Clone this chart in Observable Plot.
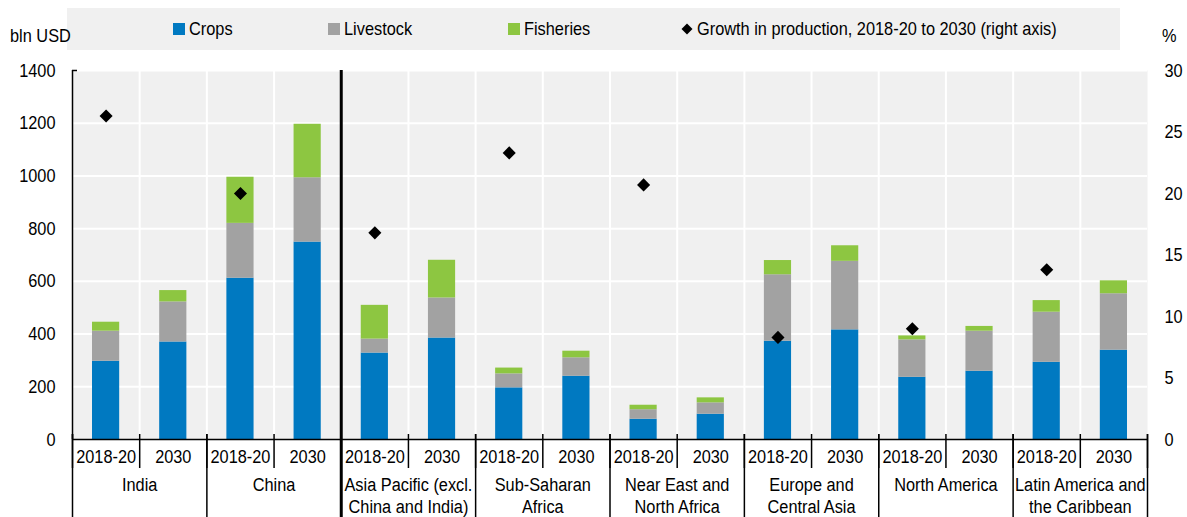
<!DOCTYPE html>
<html><head><meta charset="utf-8">
<script src="https://cdn.jsdelivr.net/npm/d3@7"></script>
<script src="https://cdn.jsdelivr.net/npm/@observablehq/plot@0.6"></script>
<style>
body{margin:0;background:#fff;}
#wrap{position:relative;width:1187px;height:517px;overflow:hidden;font-family:"Liberation Sans",Arial,sans-serif;font-size:19px;color:#000;}
#legend{position:absolute;left:67px;top:8px;width:1053px;height:42px;background:#f0f0f0;z-index:2;}
.item{position:absolute;top:0;height:42px;display:flex;align-items:center;white-space:nowrap;}
.sw{width:12px;height:12px;margin-right:4px;flex:none;}
.nar{display:inline-block;transform:scaleX(0.86);transform-origin:left center;white-space:nowrap;}
.lab{position:absolute;top:25px;z-index:2;}
#wrap svg.plot{position:absolute;left:0;top:0;}
</style>
</head><body>
<div id="wrap">
  <div id="legend"></div>
  <div class="lab" style="left:10px;"><span class="nar">bln USD</span></div>
  <div class="lab" style="left:1162px;"><span class="nar">%</span></div>
</div>
<script>
const regions = ["India","China","Asia Pacific (excl.\nChina and India)","Sub-Saharan\nAfrica","Near East and\nNorth Africa","Europe and\nCentral Asia","North America","Latin America and\nthe Caribbean"];
const years = ["2018-20","2030"];
const seriesNames = ["Crops","Livestock","Fisheries"];
const seriesColors = ["#0079c1","#a2a2a2","#8dc641"];
const growthLabel = "Growth in production, 2018-20 to 2030 (right axis)";
// values in bln USD, order: region x year
const crops     = [297,370, 612,749, 328,385, 196,240, 77,96, 373,416, 236,259, 293,339];
const livestock = [114,152, 208,244,  53,152,  53, 70, 36,43, 252,260, 142,152, 190,214];
const fisheries = [ 34, 43, 175,203, 128,143,  22, 25, 17,19,  54, 59,  15, 18,  44, 49];
// growth % (right axis), one per region
const growth = [26.3, 20.0, 16.8, 23.3, 20.7, 8.3, 9.0, 13.8];
const yTicks = [0,200,400,600,800,1000,1200,1400];
const y2Ticks = [0,5,10,15,20,25,30];

const n = regions.length * years.length;
const k = 1400 / 30;
const seriesArrays = [crops, livestock, fisheries];
const rows = [];
for (let i = 0; i < n; i++) {
  let base = 0;
  seriesNames.forEach((s, si) => {
    const v = seriesArrays[si][i];
    rows.push({i, s, y1: base, y2: base + v});
    base += v;
  });
}
const pts = growth.map((g, j) => ({i: 2 * j, g}));

// legend
const legend = document.getElementById("legend");
const lpos = [106, 261, 441];
seriesNames.forEach((s, si) => {
  const it = document.createElement("div");
  it.className = "item"; it.style.left = lpos[si] + "px";
  it.innerHTML = `<div class="sw" style="background:${seriesColors[si]}"></div><span class="nar">${s}</span>`;
  legend.appendChild(it);
});
const gi = document.createElement("div");
gi.className = "item"; gi.style.left = "614px";
gi.innerHTML = `<svg width="12" height="12" style="margin-right:4px;flex:none"><path d="M6,0.5L11.5,6L6,11.5L0.5,6Z" fill="#000"/></svg><span class="nar">${growthLabel}</span>`;
legend.appendChild(gi);

const font = '"Liberation Sans",Arial,sans-serif';
const chart = Plot.plot({
  width: 1187, height: 517,
  marginLeft: 72, marginRight: 40, marginTop: 70, marginBottom: 78,
  style: {fontFamily: font, fontSize: "19px", background: "transparent", overflow: "visible", color: "#000"},
  x: {domain: [0, n], axis: null},
  y: {domain: [0, 1400], axis: null},
  color: {domain: seriesNames, range: seriesColors},
  marks: [
    Plot.frame({fill: "#f0f0f0", stroke: null}),
    Plot.ruleY(yTicks.slice(1), {stroke: "#fff", strokeWidth: 2}),
    Plot.ruleX(d3.range(1, n), {stroke: "#fff", strokeWidth: 2}),
    Plot.rectY(rows, {x1: "i", x2: d => d.i + 1, y1: "y1", y2: "y2", fill: "s", insetLeft: 20, insetRight: 20}),
    Plot.ruleX([4], {stroke: "#000", strokeWidth: 3}),
    Plot.ruleX([0], {stroke: "#000", strokeWidth: 1.5}),
    Plot.ruleY([0], {stroke: "#000", strokeWidth: 1.5}),
    Plot.dot(pts, {x: d => d.i + 0.5, y: d => d.g * k, symbol: "diamond2", r: 5.9, fill: "#000", stroke: null}),
    Plot.axisY({anchor: "left", ticks: yTicks, tickSize: 0, tickPadding: 17, tickFormat: d => String(d), label: null}),
    Plot.axisY({anchor: "left", ticks: [1400], tickSize: -5, tickFormat: () => "", strokeWidth: 1.5, label: null}),
    Plot.axisY({anchor: "right", ticks: y2Ticks.map(v => v * k), tickFormat: v => String(Math.round(v / k)), tickSize: 0, tickPadding: 17, label: null}),
    Plot.axisX({ticks: d3.range(0, n + 1), tickSize: 34, dy: -5, tickFormat: () => "", strokeWidth: 1.5, label: null}),
    Plot.axisX({ticks: d3.range(0, n + 1, 2), tickSize: 85, dy: -5, tickFormat: () => "", strokeWidth: 1.5, label: null}),
    Plot.axisX({ticks: [4], tickSize: 85, tickFormat: () => "", strokeWidth: 3, label: null}),
    Plot.axisX({ticks: d3.range(n).map(i => i + 0.5), tickSize: 0, tickPadding: 10, tickFormat: v => years[Math.floor(v) % 2], label: null}),
    Plot.axisX({ticks: regions.map((_, j) => 2 * j + 1), tickSize: 0, tickPadding: 36, tickFormat: v => regions[(v - 1) / 2], lineHeight: 1.15, label: null})
  ]
});
// emulate a narrow (condensed) face: squeeze each text horizontally around its anchor point
chart.querySelectorAll("text").forEach(t => {
  const tr = t.getAttribute("transform") || "";
  t.setAttribute("transform", `${tr} scale(0.86,1)`);
});
document.getElementById("wrap").appendChild(chart);
</script>
</body></html>
